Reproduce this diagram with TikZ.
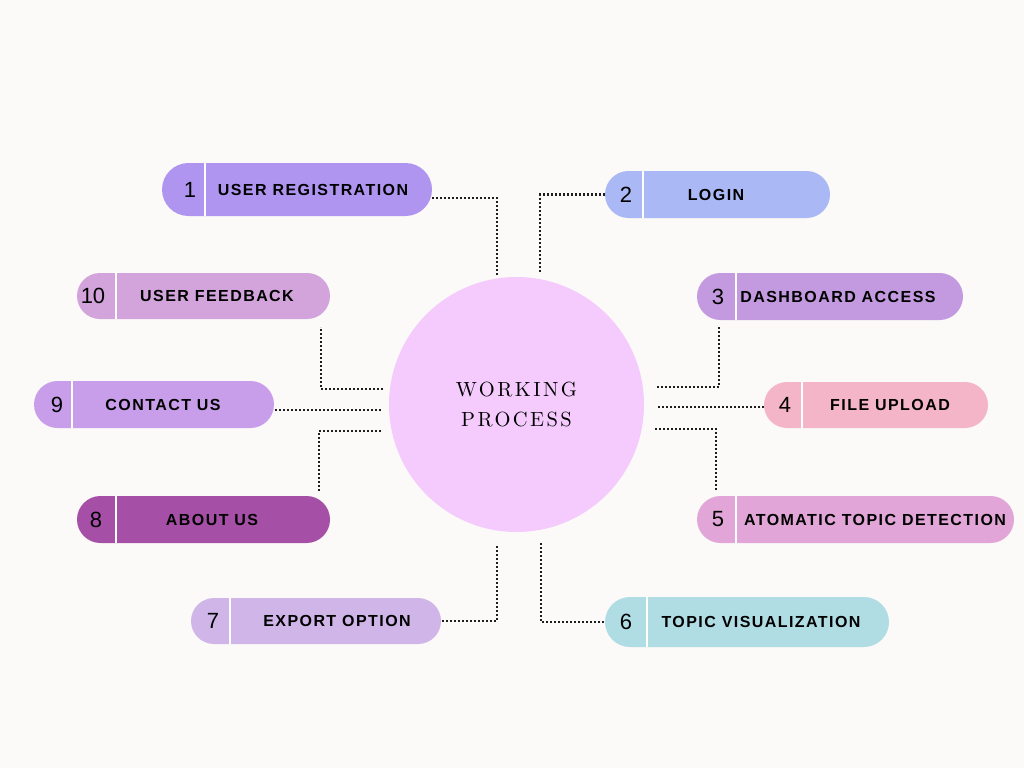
\documentclass[tikz,border=0pt]{standalone}
\usepackage{fontspec}
\usetikzlibrary{shapes.misc}
\newfontfamily\lblfont[LetterSpace=9]{Liberation Sans}
\newfontfamily\numfont{Liberation Sans}
\newfontfamily\circfont[Extension=.otf,LetterSpace=12]{lmroman10-regular}
\definecolor{bg}{HTML}{FBFAF8}
\definecolor{hubc}{HTML}{F5CBFE}
\definecolor{c1}{HTML}{AF95F0}
\definecolor{c2}{HTML}{AAB8F5}
\definecolor{c3}{HTML}{C39ADF}
\definecolor{c4}{HTML}{F5B5C8}
\definecolor{c5}{HTML}{E1A5D7}
\definecolor{c6}{HTML}{B0DCE4}
\definecolor{c7}{HTML}{D0B5E9}
\definecolor{c8}{HTML}{A64FA6}
\definecolor{c9}{HTML}{C89EEB}
\definecolor{c10}{HTML}{D2A4DB}
\definecolor{dotc}{HTML}{1E1E1E}
\begin{document}
\begin{tikzpicture}[x=1pt,y=-1pt,
  pill/.style={rounded rectangle, inner sep=0pt, draw=none},
  divider/.style={white, line width=2pt},
  numtxt/.style={inner sep=0pt, font=\numfont\fontsize{22}{24}\selectfont, text=black},
  lbltxt/.style={inner sep=0pt, font=\lblfont\bfseries\fontsize{16}{18}\selectfont, text=black},
  hub/.style={circle, fill=hubc, inner sep=0pt, minimum size=255pt, align=center,
    font=\circfont\fontsize{20.5}{30}\selectfont, text=black},
  conn/.style={draw=dotc, line width=2.2pt, dash pattern=on 2pt off 2pt}]
\useasboundingbox[fill=bg] (0,0) rectangle (1024,768);

\node[hub] (hub) at (516.5,404.5) {WORKING\\PROCESS};

\foreach \n/\col/\xa/\ya/\xb/\yb/\dv/\nx/\num/\tx/\lab in {
 p1/c1/162/163/432/216/205/190/1/313/USER REGISTRATION,
 p2/c2/605/171/830/218/643/626/2/716/LOGIN,
 p3/c3/697/273/963/320/736/718/3/838/DASHBOARD ACCESS,
 p4/c4/764/382/988/428/802/785/4/890/FILE UPLOAD,
 p5/c5/697/496/1014/543/736/718/5/875/ATOMATIC TOPIC DETECTION,
 p6/c6/605/597/889/647/647/626/6/761/TOPIC VISUALIZATION,
 p7/c7/191/598/441/644/230/213/7/337/EXPORT OPTION,
 p8/c8/77/496/330/543/116/96/8/212/ABOUT US,
 p9/c9/34/381/274/428/72/57/9/163/CONTACT US,
 p10/c10/77/273/330/319/116/93/10/217/USER FEEDBACK}
{
 \node[pill, fill=\col, minimum width={\xb-\xa}, minimum height={\yb-\ya}] (\n) at ({(\xa+\xb)/2},{(\ya+\yb)/2}) {};
 \draw[divider] (\dv,\ya) -- (\dv,\yb);
 \node[numtxt] (\n-n) at (\nx,{(\ya+\yb)/2}) {\num};
 \node[lbltxt] (\n-t) at (\tx,{(\ya+\yb)/2}) {\lab};
}

\coordinate (e1) at (497,275);
\coordinate (e2) at (540,272);
\coordinate (s3) at (657,387);
\coordinate (e3) at (719,326);
\coordinate (s4) at (658,407);
\coordinate (s5) at (655,429);
\coordinate (e5) at (716,490);
\coordinate (s6) at (541,543);
\coordinate (s7) at (497,546);
\coordinate (s8) at (381,431);
\coordinate (e8) at (319,492);
\coordinate (s9) at (381,410);
\coordinate (s10) at (383,389);
\coordinate (e10) at (321,327);

\draw[conn] ([yshift=-8.5pt]p1.east) -| (e1);
\draw[conn] (p2.west) -| (e2);
\draw[conn] (s3) -| (e3);
\draw[conn] (s4) -- (s4 -| p4.west);
\draw[conn] (s5) -| (e5);
\draw[conn] (s6) |- (p6.west);
\draw[conn] (s7) |- (p7.east);
\draw[conn] (s8) -| (e8);
\draw[conn] (s9) -- (s9 -| p9.east);
\draw[conn] (s10) -| (e10);
\end{tikzpicture}
\end{document}
